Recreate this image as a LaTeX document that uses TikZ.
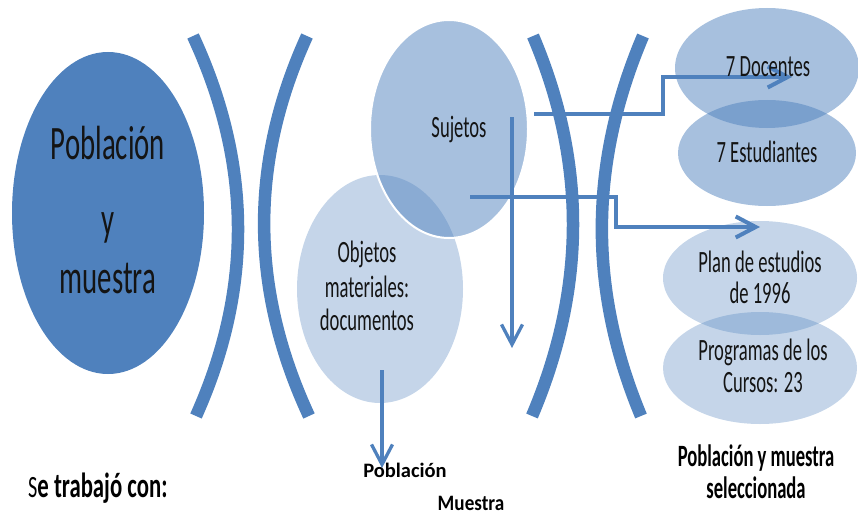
\documentclass[tikz,border=0pt]{standalone}
\usepackage{fontspec}
\setmainfont{Carlito}
\newfontfamily\cnA[FakeStretch=0.6]{Carlito}
\newfontfamily\cnB[FakeStretch=0.65]{Carlito}
\newfontfamily\cnC[FakeStretch=0.87]{Carlito}
\usetikzlibrary{shapes.geometric,arrows.meta}
\definecolor{dkblue}{RGB}{79,129,189}
\definecolor{txtcol}{RGB}{20,20,20}
\begin{document}
\begin{tikzpicture}[x=1pt,y=-1pt,
  blob/.style={ellipse, inner sep=0pt, fill=dkblue},
  midblob/.style={blob, fill opacity=0.5},
  paleblob/.style={blob, fill opacity=0.33},
  big/.style={font=\cnA\fontsize{48}{48}\selectfont, anchor=base, inner sep=0pt, text=txtcol},
  txt/.style={font=\cnA\fontsize{31}{31}\selectfont, anchor=base, inner sep=0pt, text=txtcol},
  lbl/.style={font=\cnA\bfseries\fontsize{31}{31}\selectfont, anchor=base, inner sep=0pt, text=black},
  bracket/.style={draw=dkblue, line width=12.5pt, line cap=butt},
  conn/.style={draw=dkblue, line width=4pt, -{Straight Barb[length=20pt,width=21pt]}},
  thinconn/.style={conn, line width=3.3pt},
]
\useasboundingbox (0,0) rectangle (858,516);

% main ellipse
\node[blob, minimum width=192pt, minimum height=322pt] (pm) at (108,213) {};

% objects / subjects
\node[paleblob, minimum width=166pt, minimum height=228pt] (obj) at (380,289) {};
\node[midblob, draw=white, draw opacity=1, line width=2pt, minimum width=158pt, minimum height=218pt] (suj) at (449,129) {};

% right ellipses
\node[midblob, minimum width=184pt, minimum height=120pt] (doc) at (767,68) {};
\node[midblob, minimum width=178pt, minimum height=106pt] (est) at (767,153) {};
\node[paleblob, minimum width=194pt, minimum height=114pt] (plan) at (760,278) {};
\node[paleblob, minimum width=194pt, minimum height=112pt] (prog) at (760,368) {};

% connectors
\coordinate (s1) at (534,114);
\coordinate (e1) at (792,77);
\coordinate (s2) at (470,197);
\coordinate (e2) at (760,227);
\coordinate (s3) at (512,117);
\coordinate (e3) at (512,348);
\coordinate (s4) at (382,370);
\coordinate (e4) at (382,468);
\draw[conn] (s1) -- ++(129,0) |- (e1);
\draw[conn] (s2) -- ++(146,0) |- (e2);
\draw[thinconn] (s3) -- (e3);
\draw[thinconn] (s4) -- (e4);

% brackets
\draw[bracket] (193,36) .. controls (252,163) and (253,289) .. (196,416);
\draw[bracket] (307,36) .. controls (249,163) and (250,289) .. (309,416);
\draw[bracket] (533,36) .. controls (587,163) and (586,289) .. (532,416);
\draw[bracket] (643,36) .. controls (589,163) and (588,289) .. (641,416);

% texts
\node[big] (t1) at (108,159) {Población};
\node[big] (t2) at (108,235) {y};
\node[big] (t3) at (108,293) {muestra};
\node[txt] (tsuj) at (459,137) {Sujetos};
\node[txt] (tob1) at (367,262) {Objetos};
\node[txt] (tob2) at (367,297) {materiales:};
\node[txt] (tob3) at (367,330) {documentos};
\node[txt] (tdoc) at (768,77) {7 Docentes};
\node[txt] (test) at (767,162) {7 Estudiantes};
\node[txt] (tpl1) at (760,272) {Plan de estudios};
\node[txt] (tpl2) at (760,303) {de 1996};
\node[txt] (tpr1) at (763,360) {Programas de los};
\node[txt] (tpr2) at (763,392) {Cursos: 23};

% bottom labels
\node[lbl, anchor=base west, font=\cnB\bfseries\fontsize{35}{35}\selectfont] (stc) at (28,497) {{\mdseries\fontsize{31}{31}\selectfont S}e trabajó con:};
\node[lbl, font=\bfseries\fontsize{20.5}{20.5}\selectfont] (lpob) at (405,477) {Población};
\node[lbl, font=\cnC\bfseries\fontsize{22}{22}\selectfont] (lmue) at (471,510) {Muestra};
\node[lbl] (lsel1) at (756,466) {Población y muestra};
\node[lbl] (lsel2) at (756,498) {seleccionada};
\end{tikzpicture}
\end{document}
